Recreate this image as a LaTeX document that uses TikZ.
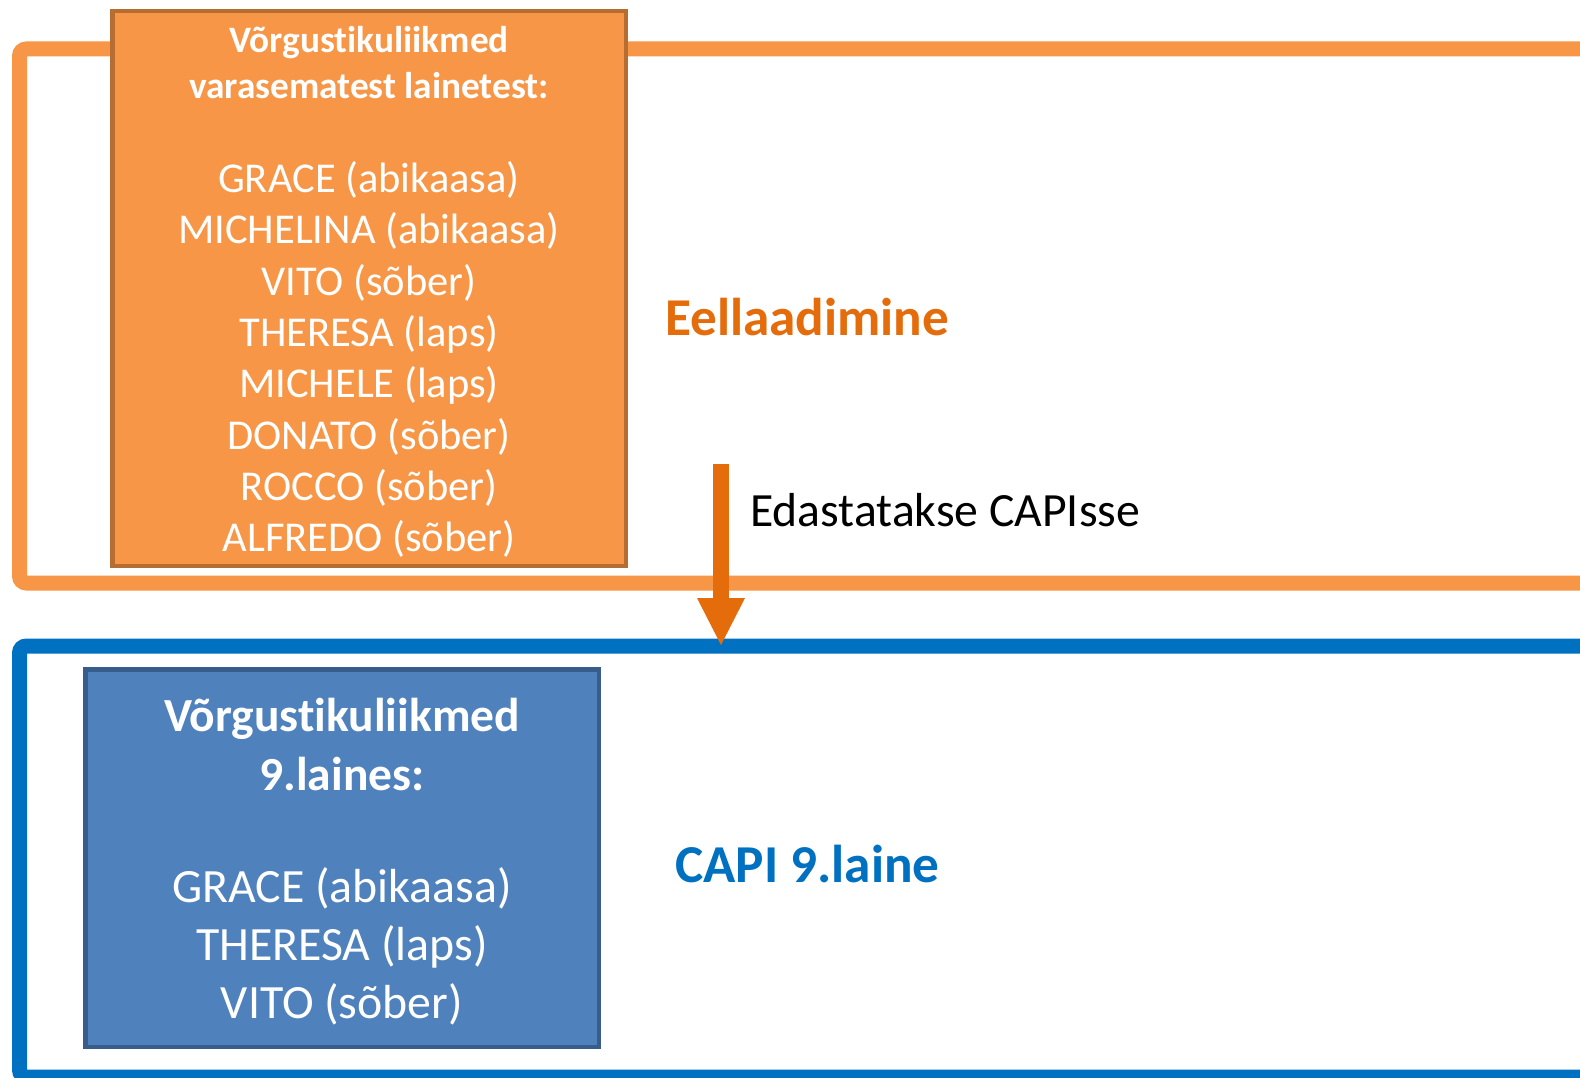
\documentclass[tikz,border=0pt]{standalone}
\usepackage{fontspec}
\setmainfont{Carlito}[Ligatures=NoCommon]
\definecolor{frameorange}{HTML}{F79646}
\definecolor{boxorange}{HTML}{F79646}
\definecolor{boxorangeedge}{HTML}{B66D31}
\definecolor{arroworange}{HTML}{E46C0A}
\definecolor{frameblue}{HTML}{0070C0}
\definecolor{boxblue}{HTML}{4F81BD}
\definecolor{boxblueedge}{HTML}{385D8A}
\tikzset{
  frame/.style={line width=15pt, rounded corners=7pt},
  obox/.style={draw=boxorangeedge, fill=boxorange, line width=4.5pt, inner sep=0pt},
  bbox/.style={draw=boxblueedge, fill=boxblue, line width=4.5pt, inner sep=0pt},
  boxtext/.style={text=white, align=center, inner sep=0pt},
  plain/.style={inner sep=0pt, anchor=west},
}
\begin{document}
\begin{tikzpicture}[x=1pt, y=-1pt]
\useasboundingbox (0,0) rectangle (1580,1078);
\fill[white] (0,0) rectangle (1580,1078);
\clip (0,0) rectangle (1580,1078);
% frames
\draw[frame, draw=frameorange] (19.5,49) rectangle (1620,583);
\draw[frame, draw=frameblue] (19.5,646) rectangle (1620,1077);
% orange box
\node[obox, minimum width=513.5pt, minimum height=554.5pt] (prev) at (369,288.5) {};
\node[boxtext, font=\fontsize{37.3}{46}\selectfont\bfseries] (prevtitle) at (369,63) {Võrgustikuliikmed\\varasematest lainetest:};
\node[boxtext, font=\fontsize{42.5}{51.3}\selectfont] (prevlist) at (369,359.5) {GRACE (abikaasa)\\MICHELINA (abikaasa)\\VITO (sõber)\\THERESA (laps)\\MICHELE (laps)\\DONATO (sõber)\\ROCCO (sõber)\\ALFREDO (sõber)};
% blue box
\node[bbox, minimum width=513.5pt, minimum height=377.5pt] (cur) at (342,858) {};
\node[boxtext, font=\fontsize{47.5}{59}\selectfont\bfseries] (curtitle) at (342,744.5) {Võrgustikuliikmed\\9.laines:};
\node[boxtext, font=\fontsize{47.8}{58}\selectfont] (curlist) at (342,946) {GRACE (abikaasa)\\THERESA (laps)\\VITO (sõber)};
% labels
\node[plain, text=arroworange, font=\fontsize{53.2}{60}\selectfont\bfseries] (prelabel) at (665,317) {Eellaadimine};
\node[plain, text=frameblue, font=\fontsize{53.3}{60}\selectfont\bfseries] (capilabel) at (675,864) {CAPI 9.laine};
\node[plain, text=black, font=\fontsize{47.7}{56}\selectfont] (edlabel) at (750,510) {Edastatakse CAPIsse};
% arrow
\coordinate (arrowtop) at (721,464);
\coordinate (arrowbase) at (721,598);
\coordinate (arrowtip) at (721,645);
\draw[arroworange, line width=16pt] (arrowtop) -- (arrowbase);
\fill[arroworange] ([xshift=-24pt]arrowbase) -- ([xshift=24pt]arrowbase) -- (arrowtip) -- cycle;
\end{tikzpicture}
\end{document}
